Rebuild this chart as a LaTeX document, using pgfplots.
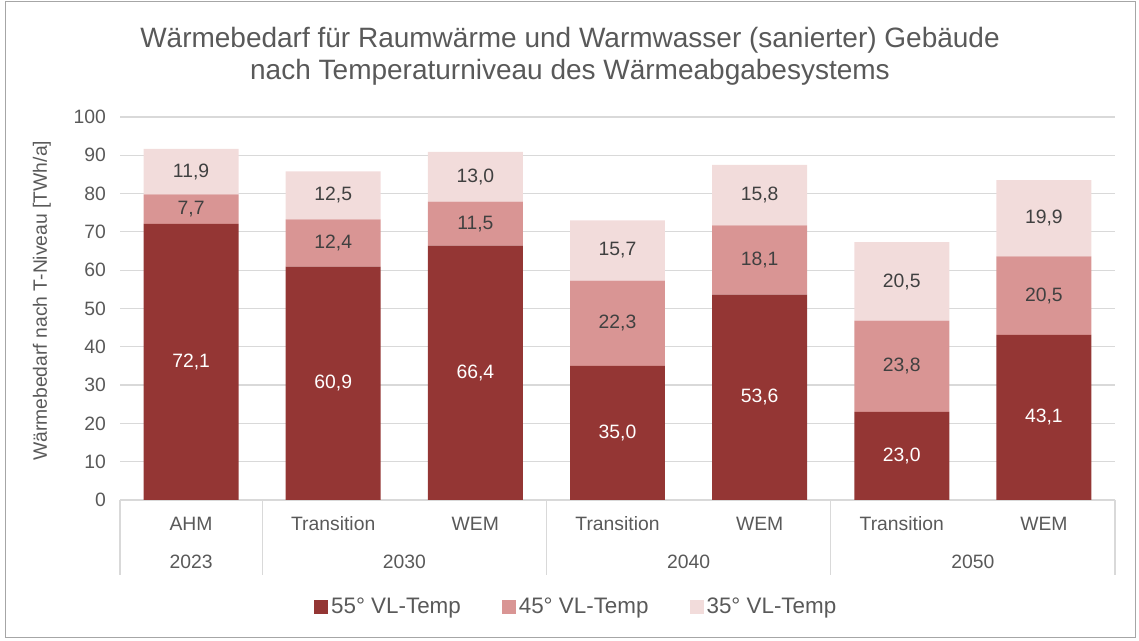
\documentclass[border=0pt]{standalone}
\usepackage{pgfplots}
\pgfplotsset{compat=1.18}
\usepackage{fontspec}
\setmainfont{Liberation Sans}
\definecolor{c55}{HTML}{943634}
\definecolor{c45}{HTML}{D99594}
\definecolor{c35}{HTML}{F2DCDB}
\definecolor{txt}{HTML}{595959}
\definecolor{lbl}{HTML}{404040}
\definecolor{gridc}{HTML}{D9D9D9}
\definecolor{framec}{HTML}{A6A6A6}
\begin{document}
\begin{tikzpicture}
\useasboundingbox (0pt,0pt) rectangle (854.25pt,480.75pt);
\draw[framec, line width=0.75pt] (3.75pt,2.25pt) rectangle (851.25pt,479.25pt);
\node[align=center, text=txt, font=\fontsize{21}{24}\selectfont] at (427.5pt,438.75pt)
  {Wärmebedarf für Raumwärme und Warmwasser (sanierter) Gebäude\\nach Temperaturniveau des Wärmeabgabesystems};
\begin{axis}[
  at={(90pt,105.75pt)}, anchor=south west,
  width=746.25pt, height=287.25pt, scale only axis,
  ybar stacked, bar width=0.668,
  xmin=-0.5, xmax=6.5, ymin=0, ymax=100,
  ytick={0,10,...,100},
  xtick={0,...,6},
  xticklabels={AHM,Transition,WEM,Transition,WEM,Transition,WEM},
  ymajorgrids, grid style={gridc, line width=0.9pt},
  axis line style={draw=none},
  major tick length=0,
  clip=false,
  /pgf/number format/assume math mode=true,
  ticklabel style={font=\fontsize{14.5}{17}\selectfont, text=txt},
  yticklabel style={xshift=-7pt},
  xticklabel style={anchor=center, yshift=-18pt},
  ylabel={Wärmebedarf nach T-Niveau [TWh/a]},
  ylabel style={at={(axis description cs:-0.0784,0.52)}, anchor=center, font=\fontsize{14.5}{17}\selectfont, text=txt},
  visualization depends on={rawy \as \rawy},
  nodes near coords={\pgfmathprintnumber[fixed,fixed zerofill,precision=1,use comma,assume math mode=true]{\rawy}},
  every node near coord/.append style={anchor=center, font=\fontsize{14.5}{17}\selectfont},
  legend style={at={(axis description cs:0.459,-0.279)}, anchor=center, draw=none, fill=none,
    font=\fontsize{16.8}{19}\selectfont, text=txt,
    /tikz/every odd column/.append style={column sep=0pt},
    /tikz/every even column/.append style={column sep=29pt}},
  legend columns=3,
  legend image code/.code={\path[#1,draw=none] (0pt,-5.25pt) rectangle (10.5pt,5.25pt);},
]
\addplot[fill=c55, draw=none, every node near coord/.append style={text=white}]
  coordinates {(0,72.1) (1,60.9) (2,66.4) (3,35.0) (4,53.6) (5,23.0) (6,43.1)};
\addplot[fill=c45, draw=none, every node near coord/.append style={text=lbl}]
  coordinates {(0,7.7) (1,12.4) (2,11.5) (3,22.3) (4,18.1) (5,23.8) (6,20.5)};
\addplot[fill=c35, draw=none, every node near coord/.append style={text=lbl}]
  coordinates {(0,11.9) (1,12.5) (2,13.0) (3,15.7) (4,15.8) (5,20.5) (6,19.9)};
\legend{55° VL-Temp, 45° VL-Temp, 35° VL-Temp}
\pgfplotsinvokeforeach{-0.5,0.5,2.5,4.5,6.5}{
  \draw[gridc, line width=0.9pt] (axis cs:#1,0) -- ([yshift=-56.25pt]axis cs:#1,0);
}
\node[text=txt, font=\fontsize{14.5}{17}\selectfont] at ([yshift=-46.5pt]axis cs:0,0) {2023};
\node[text=txt, font=\fontsize{14.5}{17}\selectfont] at ([yshift=-46.5pt]axis cs:1.5,0) {2030};
\node[text=txt, font=\fontsize{14.5}{17}\selectfont] at ([yshift=-46.5pt]axis cs:3.5,0) {2040};
\node[text=txt, font=\fontsize{14.5}{17}\selectfont] at ([yshift=-46.5pt]axis cs:5.5,0) {2050};
\end{axis}
\end{tikzpicture}
\end{document}
